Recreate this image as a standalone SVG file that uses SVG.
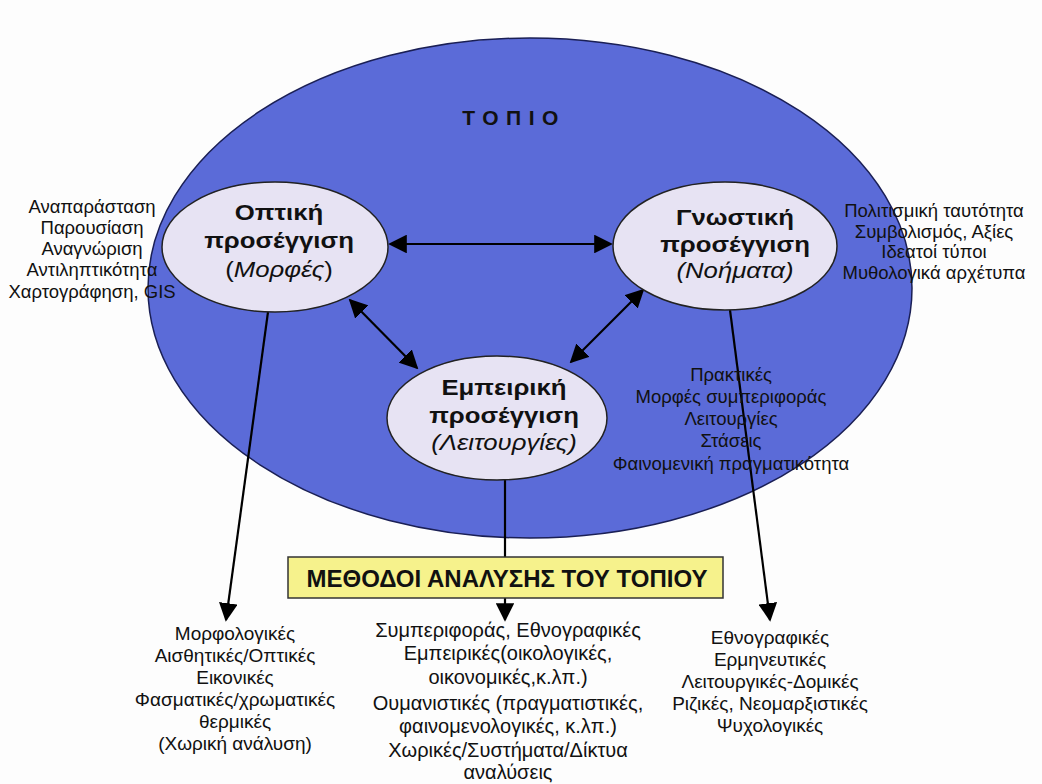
<svg xmlns="http://www.w3.org/2000/svg" width="1042" height="784" viewBox="0 0 1042 784">
<style>
text{font-family:"Liberation Sans",Arial,sans-serif;fill:#111;text-anchor:middle}
.l{font-size:18.5px}
.b{font-size:19px}
.m{font-size:20px}
.n{font-size:23px;font-weight:bold}
.i{font-size:23px;font-style:italic}
.node{fill:#e7e3f3;stroke:#222;stroke-width:1.5}
.c{stroke:#000;stroke-width:2.2;fill:none}
</style>
<defs>
<marker id="ah" viewBox="0 0 10 10" refX="9" refY="5" markerWidth="8.5" markerHeight="8.5" orient="auto-start-reverse" markerUnits="strokeWidth">
<path d="M0,0 L10,5 L0,10 z" fill="#000"/>
</marker>
</defs>
<rect width="1042" height="784" fill="#fdfdfd"/>
<g id="landscape">
<ellipse cx="530" cy="288" rx="382" ry="250" fill="#5b6bd8" stroke="#1a1f55" stroke-width="1.5"/>
<text x="514" y="125" style="font-size:21px;font-weight:bold;letter-spacing:7.5px">ΤΟΠΙΟ</text>
</g>
<g id="connectors">
<line class="c" x1="390" y1="244" x2="611" y2="244" marker-start="url(#ah)" marker-end="url(#ah)"/>
<line class="c" x1="350" y1="300" x2="417" y2="368" marker-start="url(#ah)" marker-end="url(#ah)"/>
<line class="c" x1="643" y1="290" x2="571" y2="362" marker-start="url(#ah)" marker-end="url(#ah)"/>
<line class="c" x1="268" y1="312" x2="226" y2="620" marker-end="url(#ah)"/>
<line class="c" x1="505" y1="479" x2="505" y2="620" marker-end="url(#ah)"/>
<line class="c" x1="730" y1="310" x2="770" y2="620" marker-end="url(#ah)"/>
</g>
<g id="optic">
<ellipse class="node" cx="275" cy="247" rx="113" ry="65"/>
<text class="n" transform="translate(279 220) scale(1.12 1)">Οπτική</text>
<text class="n" transform="translate(279 248) scale(1.12 1)">προσέγγιση</text>
<text transform="translate(279 277) scale(1.12 1)" style="font-size:23px">(<tspan font-style="italic">Μορφές</tspan>)</text>
</g>
<g id="gnostic">
<ellipse class="node" cx="725" cy="246" rx="112" ry="64"/>
<text class="n" transform="translate(735 225) scale(1.12 1)">Γνωστική</text>
<text class="n" transform="translate(735 252) scale(1.12 1)">προσέγγιση</text>
<text class="i" transform="translate(735 278) scale(1.12 1)">(Νοήματα)</text>
</g>
<g id="empirical">
<ellipse class="node" cx="497" cy="418" rx="110" ry="62"/>
<text class="n" transform="translate(504 395) scale(1.12 1)">Εμπειρική</text>
<text class="n" transform="translate(504 423) scale(1.12 1)">προσέγγιση</text>
<text class="i" transform="translate(504 450) scale(1.12 1)">(Λειτουργίες)</text>
</g>
<g id="optic-list">
<text class="l" x="92" y="213">Αναπαράσταση</text>
<text class="l" x="92" y="234">Παρουσίαση</text>
<text class="l" x="92" y="255">Αναγνώριση</text>
<text class="l" x="92" y="276">Αντιληπτικότητα</text>
<text class="l" x="92" y="298">Χαρτογράφηση, GIS</text>
</g>
<g id="gnostic-list">
<text class="l" x="934" y="217">Πολιτισμική ταυτότητα</text>
<text class="l" x="934" y="238">Συμβολισμός, Αξίες</text>
<text class="l" x="934" y="258">Ιδεατοί τύποι</text>
<text class="l" x="934" y="279">Μυθολογικά αρχέτυπα</text>
</g>
<g id="empirical-list">
<text class="l" x="731" y="381">Πρακτικές</text>
<text class="l" x="731" y="403">Μορφές συμπεριφοράς</text>
<text class="l" x="731" y="425">Λειτουργίες</text>
<text class="l" x="731" y="447">Στάσεις</text>
<text class="l" x="731" y="470">Φαινομενική πραγματικότητα</text>
</g>
<g id="methods">
<rect x="288" y="557" width="435" height="41" fill="#f6f28c" stroke="#333" stroke-width="1.5"/>
<text x="507" y="587" style="font-size:24px;font-weight:bold">ΜΕΘΟΔΟΙ ΑΝΑΛΥΣΗΣ ΤΟΥ ΤΟΠΙΟΥ</text>
</g>
<g id="methods-optic">
<text class="b" x="235" y="640">Μορφολογικές</text>
<text class="b" x="235" y="662">Αισθητικές/Οπτικές</text>
<text class="b" x="235" y="684">Εικονικές</text>
<text class="b" x="235" y="706">Φασματικές/χρωματικές</text>
<text class="b" x="235" y="728">θερμικές</text>
<text class="b" x="235" y="750">(Χωρική ανάλυση)</text>
</g>
<g id="methods-empirical">
<text class="m" x="508" y="637">Συμπεριφοράς, Εθνογραφικές</text>
<text class="m" x="508" y="660">Εμπειρικές(οικολογικές,</text>
<text class="m" x="508" y="684">οικονομικές,κ.λπ.)</text>
<text class="m" x="508" y="710">Ουμανιστικές (πραγματιστικές,</text>
<text class="m" x="508" y="733">φαινομενολογικές, κ.λπ.)</text>
<text class="m" x="508" y="757">Χωρικές/Συστήματα/Δίκτυα</text>
<text class="m" x="508" y="779">αναλύσεις</text>
</g>
<g id="methods-gnostic">
<text class="b" x="770" y="644">Εθνογραφικές</text>
<text class="b" x="770" y="666">Ερμηνευτικές</text>
<text class="b" x="770" y="688">Λειτουργικές-Δομικές</text>
<text class="b" x="770" y="710">Ριζικές, Νεομαρξιστικές</text>
<text class="b" x="770" y="732">Ψυχολογικές</text>
</g>
</svg>
